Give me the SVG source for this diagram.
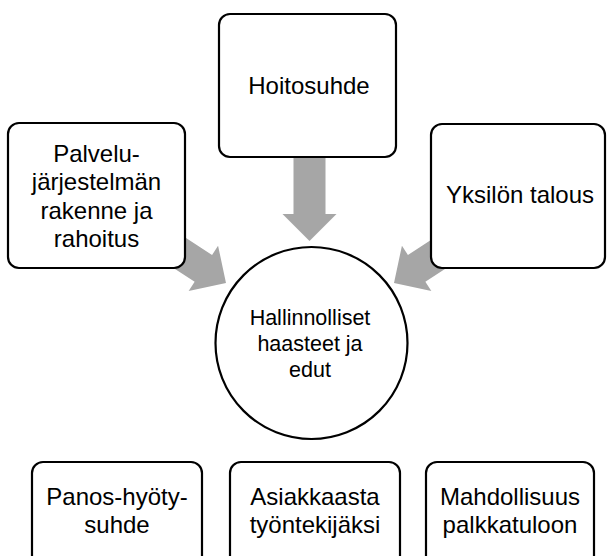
<svg xmlns="http://www.w3.org/2000/svg" width="607" height="556" viewBox="0 0 607 556">
<defs>
<style>
.box{fill:#fff;stroke:#000;stroke-width:2.2}
.arrow{fill:#a6a6a6;stroke:none}
text{font-family:"Liberation Sans",Arial,sans-serif;fill:#000;text-anchor:middle}
.t{font-size:24px}
.c{font-size:21.5px}
</style>
<path id="arr" d="M-90,-16 L-27,-16 L-27,-27 L0,0 L-27,27 L-27,16 L-90,16 Z"/>
</defs>
<rect width="607" height="556" fill="#fff"/>
<g id="connectors">
<use href="#arr" class="arrow" transform="translate(309.5,241) rotate(90)"/>
<use href="#arr" class="arrow" transform="translate(226,283) rotate(33)"/>
<use href="#arr" class="arrow" transform="translate(394,283) rotate(147)"/>
</g>
<g id="hoitosuhde">
<rect class="box" x="219" y="14" width="177" height="143" rx="11"/>
<text class="t" x="309" y="94">Hoitosuhde</text>
</g>
<g id="palvelujarjestelma">
<rect class="box" x="8" y="123" width="177" height="145" rx="11"/>
<text class="t" x="96.5" y="162">Palvelu-</text>
<text class="t" x="96.5" y="190.3">järjestelmän</text>
<text class="t" x="96.5" y="218.6">rakenne ja</text>
<text class="t" x="96.5" y="247">rahoitus</text>
</g>
<g id="yksilon-talous">
<rect class="box" x="431" y="124" width="174" height="144" rx="11"/>
<text class="t" x="520" y="203">Yksilön talous</text>
</g>
<g id="hallinnolliset">
<circle class="box" cx="311.5" cy="343" r="96"/>
<text class="c" x="310" y="325">Hallinnolliset</text>
<text class="c" x="310" y="351">haasteet ja</text>
<text class="c" x="310" y="377">edut</text>
</g>
<g id="panos-hyoty">
<rect class="box" x="32" y="462" width="170" height="130" rx="11"/>
<text class="t" x="117" y="505">Panos-hyöty-</text>
<text class="t" x="117" y="533">suhde</text>
</g>
<g id="asiakkaasta">
<rect class="box" x="230" y="462" width="170" height="130" rx="11"/>
<text class="t" x="315" y="505">Asiakkaasta</text>
<text class="t" x="315" y="533">työntekijäksi</text>
</g>
<g id="mahdollisuus">
<rect class="box" x="426" y="462" width="168" height="130" rx="11"/>
<text class="t" x="510" y="505">Mahdollisuus</text>
<text class="t" x="510" y="533">palkkatuloon</text>
</g>
</svg>
